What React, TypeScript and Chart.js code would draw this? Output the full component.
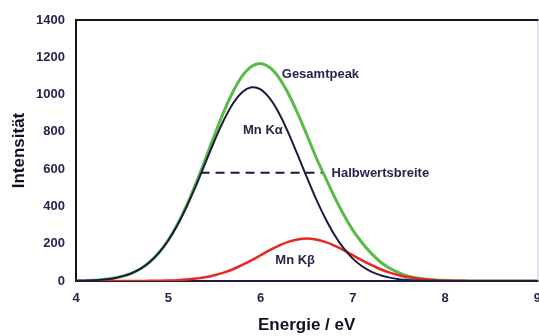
import React, { useEffect, useRef } from "react";
import { Chart, registerables } from "chart.js";

Chart.register(...registerables);

const energy = [
  4.0, 4.1, 4.2, 4.3, 4.4, 4.5, 4.6, 4.7, 4.8, 4.9,
  5.0, 5.1, 5.2, 5.3, 5.4, 5.5, 5.6, 5.7, 5.8, 5.9,
  6.0, 6.1, 6.2, 6.3, 6.4, 6.5, 6.6, 6.7, 6.8, 6.9,
  7.0, 7.1, 7.2, 7.3, 7.4, 7.5, 7.6, 7.7, 7.8, 7.9,
  8.0, 8.1, 8.2, 8.3, 8.4, 8.5, 8.6, 8.7, 8.8, 8.9, 9.0,
];

const mnKalpha = [
  1, 2, 4, 8, 14, 25, 41, 66, 102, 152,
  217, 300, 399, 511, 631, 751, 861, 951, 1013, 1039,
  1028, 979, 900, 796, 679, 558, 442, 338, 248, 176,
  120, 79, 50, 31, 18, 10, 5.6, 3, 1.5, 0.7,
  0.3, 0, 0, 0, 0, 0, 0, 0, 0, 0, 0,
];

const mnKbeta = [
  0, 0, 0, 0, 0, 0, 0, 0.3, 0.7, 1.4,
  2.5, 4.5, 7.8, 13, 20, 31, 45, 63, 86, 111,
  138, 166, 190, 210, 223, 228, 223, 210, 190, 166,
  138, 111, 86, 63, 45, 31, 20, 13, 7.8, 4.5,
  2.5, 1.4, 0.7, 0.3, 0, 0, 0, 0, 0, 0, 0,
];

const gesamtpeak = [
  1, 2, 4, 8, 15, 25, 41, 66, 103, 153,
  220, 305, 407, 524, 651, 782, 906, 1014, 1099, 1150,
  1166, 1145, 1090, 1006, 902, 786, 665, 558, 453, 357,
  273, 205, 148, 102, 68, 44, 26, 16, 9, 5,
  3, 1.5, 0.7, 0.3, 0, 0, 0, 0, 0, 0, 0,
];

const halfWidthX = [5.35, 6.67];
const halfWidthY = [580, 580];

const xTicks = [4, 5, 6, 7, 8, 9];
const yTicks = [0, 200, 400, 600, 800, 1000, 1200, 1400];

const labelTexts = ["Gesamtpeak", "Mn K\u03b1", "Halbwertsbreite", "Mn K\u03b2"];
const labelX = [6.23, 5.81, 6.77, 6.16];
const labelY = [1110, 810, 579, 113];

const DARK = "#1b1b42";
const GREEN = "#5aba48";
const RED = "#e8281f";
const FONT = "'Liberation Sans', Arial, sans-serif";

const framePlugin = {
  id: "frame",
  beforeDatasetsDraw(chart: any) {
    const { ctx, chartArea } = chart;
    const { left, right, top, bottom } = chartArea;
    ctx.save();
    ctx.lineCap = "square";
    ctx.strokeStyle = "#c8c6d8";
    ctx.lineWidth = 1;
    ctx.beginPath();
    ctx.moveTo(right + 0.5, top);
    ctx.lineTo(right + 0.5, bottom);
    ctx.stroke();
    ctx.strokeStyle = "#111122";
    ctx.lineWidth = 2;
    ctx.beginPath();
    ctx.moveTo(left, top);
    ctx.lineTo(right, top);
    ctx.stroke();
    ctx.beginPath();
    ctx.moveTo(left, top);
    ctx.lineTo(left, bottom);
    ctx.stroke();
    ctx.strokeStyle = DARK;
    ctx.beginPath();
    ctx.moveTo(left, bottom);
    ctx.lineTo(right, bottom);
    ctx.stroke();
    ctx.restore();
  },
};

const textPlugin = {
  id: "curveLabels",
  afterDatasetsDraw(chart: any) {
    const { ctx, scales } = chart;
    ctx.save();
    ctx.fillStyle = "#25254c";
    ctx.font = `bold 13px ${FONT}`;
    ctx.textAlign = "left";
    ctx.textBaseline = "middle";
    labelTexts.forEach((t, i) => {
      ctx.fillText(t, scales.x.getPixelForValue(labelX[i]), scales.y.getPixelForValue(labelY[i]));
    });
    ctx.restore();
  },
};

export default function App() {
  const ref = useRef<HTMLCanvasElement | null>(null);

  useEffect(() => {
    if (!ref.current) return;
    const toPts = (ys: number[]) => energy.map((x, i) => ({ x, y: ys[i] }));
    const tickFont = { family: FONT, size: 13, weight: "bold" as const };
    const chart = new Chart(ref.current, {
      type: "line",
      data: {
        datasets: [
          {
            label: "Mn Kα",
            data: toPts(mnKalpha),
            borderColor: DARK,
            borderWidth: 2,
            pointRadius: 0,
            tension: 0.4,
            fill: false,
          },
          {
            label: "Mn Kβ",
            data: toPts(mnKbeta),
            borderColor: RED,
            borderWidth: 2.5,
            pointRadius: 0,
            tension: 0.4,
            fill: false,
          },
          {
            label: "Gesamtpeak",
            data: toPts(gesamtpeak),
            borderColor: GREEN,
            borderWidth: 3,
            pointRadius: 0,
            tension: 0.4,
            fill: false,
          },
          {
            label: "Halbwertsbreite",
            data: halfWidthX.map((x, i) => ({ x, y: halfWidthY[i] })),
            borderColor: DARK,
            borderWidth: 2,
            borderDash: [9, 6],
            pointRadius: 0,
            fill: false,
          },
        ],
      },
      options: {
        animation: false,
        responsive: false,
        maintainAspectRatio: false,
        layout: { padding: { top: 20, right: 2, left: 0, bottom: 0 } },
        plugins: {
          legend: { display: false },
          tooltip: { enabled: false },
        },
        scales: {
          x: {
            type: "linear",
            min: 4,
            max: 9,
            afterBuildTicks: (s: any) => {
              s.ticks = xTicks.map((v) => ({ value: v }));
            },
            afterFit: (s: any) => {
              s.height = 55;
            },
            grid: { display: false, drawTicks: false },
            border: { display: false },
            ticks: {
              color: "#25254c",
              font: tickFont,
              padding: 10,
              maxRotation: 0,
              autoSkip: false,
              callback: (v: any) => String(v),
            },
            title: {
              display: true,
              text: "Energie / eV",
              color: "#111122",
              font: { family: FONT, size: 17, weight: "bold" },
              padding: { top: 8, bottom: 0 },
            },
          },
          y: {
            type: "linear",
            min: 0,
            max: 1400,
            afterBuildTicks: (s: any) => {
              s.ticks = yTicks.map((v) => ({ value: v }));
            },
            afterFit: (s: any) => {
              s.width = 76;
            },
            grid: { display: false, drawTicks: false },
            border: { display: false },
            ticks: {
              color: "#25254c",
              font: tickFont,
              padding: 11,
              callback: (v: any) => String(v),
            },
            title: {
              display: true,
              text: "Intensität",
              color: "#111122",
              font: { family: FONT, size: 17, weight: "bold" },
              padding: { top: 9, bottom: 0 },
            },
          },
        },
      },
      plugins: [framePlugin, textPlugin],
    });
    return () => chart.destroy();
  }, []);

  return (
    <div style={{ position: "absolute", left: 0, top: 0, width: 539, height: 336, overflow: "hidden", background: "#fff" }}>
      <canvas ref={ref} width={551} height={336} style={{ display: "block" }} />
    </div>
  );
}
